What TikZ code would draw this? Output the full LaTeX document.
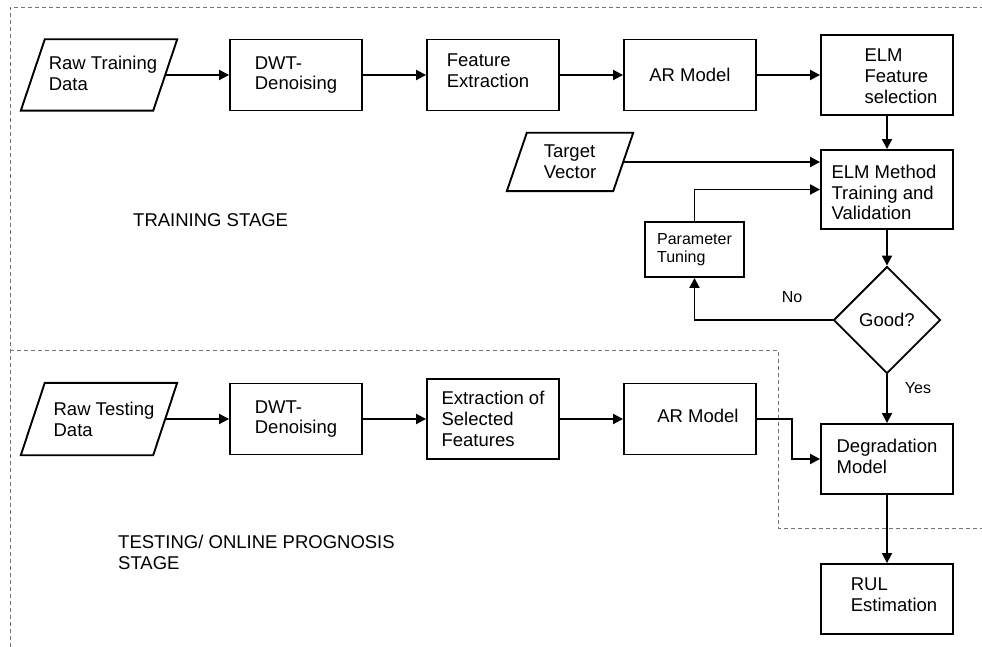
\documentclass[tikz,border=0pt]{standalone}
\usepackage{fontspec}
\setmainfont{Liberation Sans}
\usetikzlibrary{arrows.meta,shapes.geometric}

\begin{document}
\begin{tikzpicture}[x=1pt,y=-1pt,
  font=\fontsize{18.5}{20.8}\selectfont,
  box/.style={draw, line width=1.9pt, rectangle, inner sep=0pt, align=left,
    minimum width=132pt, minimum height=71pt},
  iobox/.style={inner sep=0pt, align=left, minimum width=132pt, minimum height=71pt},
  txt/.style={inner sep=0pt, align=left},
  outline/.style={draw, line width=1.9pt, line join=miter},
  flow/.style={line width=1.9pt, -{Triangle[length=10pt,width=10pt]}},
  stageline/.style={draw=black!55, line width=0.8pt, dash pattern=on 4pt off 3pt},
  tag/.style={inner sep=0pt, font=\fontsize{16}{18}\selectfont},
]
\useasboundingbox (0,0) rectangle (982,647);

% stage borders
\draw[stageline] (10,647) -- (10,7) -- (982,7);
\draw[stageline] (10,350) -- (778,350) -- (778,528) -- (982,528);

% training row
\node[iobox] (rtr) at (99,75) {};
\node[txt] (rtr-t) at ([xshift=4pt,yshift=2pt]rtr.center) {Raw Training\\Data};
\node[box] (dwt1) at (296,75) {DWT-\\Denoising};
\node[box] (fe) at (493,75) {};
\node[txt] (fe-t) at ([xshift=-5pt,yshift=4pt]fe.center) {Feature\\Extraction};
\node[box] (ar1) at (690,75) {AR Model};
\node[box, minimum height=80pt] (elmfs) at (887,75) {};
\node[txt] (elmfs-t) at ([xshift=14pt,yshift=-1pt]elmfs.center) {ELM\\Feature\\selection};

\node[iobox, minimum width=106pt, minimum height=58pt] (tv) at (570,162) {Target\\Vector};
\node[box, minimum height=79pt] (elmm) at (887,189.5) {};
\node[txt] (elmm-t) at ([xshift=-3pt,yshift=-3pt]elmm.center) {ELM Method\\Training and\\Validation};
\node[box, minimum width=99pt, minimum height=55pt, font=\fontsize{16}{18}\selectfont] (pt) at (694.5,249.5) {Parameter\\Tuning};
\node[draw, line width=1.9pt, diamond, aspect=1, inner sep=0pt, minimum size=107pt] (good) at (887,320) {Good?};

% testing row
\node[iobox, minimum height=72pt] (rte) at (99,419) {};
\node[txt] (rte-t) at ([xshift=5pt]rte.center) {Raw Testing\\Data};
\node[box] (dwt2) at (296,419) {DWT-\\Denoising};
\node[box, minimum height=80pt] (esf) at (493,419) {Extraction of\\Selected\\Features};
\node[box] (ar2) at (690,419) {};
\node[txt] (ar2-t) at ([xshift=8pt,yshift=3pt]ar2.center) {AR Model};
\node[box, minimum height=70pt] (deg) at (887,459) {};
\node[txt] (deg-t) at ([yshift=3pt]deg.center) {Degradation\\Model};
\node[box, minimum height=70pt] (rul) at (887,599) {};
\node[txt] (rul-t) at ([xshift=7pt,yshift=4pt]rul.center) {RUL\\Estimation};

% data input outlines
\foreach \n/\s in {rtr/12, rte/12, tv/10}{
  \draw[outline] ([xshift=\s]\n.north west) -- ([xshift=\s]\n.north east)
    -- ([xshift=-\s]\n.south east) -- ([xshift=-\s]\n.south west) -- cycle;
}

% stage labels
\node[inner sep=0pt, anchor=west] (trainlbl) at (133,220) {TRAINING STAGE};
\node[inner sep=0pt, anchor=west, align=left] (testlbl) at (118,552) {TESTING/ ONLINE PROGNOSIS\\STAGE};

% connectors
\draw[flow] (rtr.east) -- (dwt1.west);
\draw[flow] (dwt1.east) -- (fe.west);
\draw[flow] (fe.east) -- (ar1.west);
\draw[flow] (ar1.east) -- (elmfs.west);
\draw[flow] (elmfs.south) -- (elmm.north);
\draw[flow] (tv.east) -- (tv.east -| elmm.west);
\draw[flow] (pt.north) |- (elmm.west);
\draw[flow] (elmm.south) -- (good.north);
\draw[flow] (good.west) -| (pt.south);
\draw[flow] (good.south) -- (deg.north);

\draw[flow] (rte.east) -- (dwt2.west);
\draw[flow] (dwt2.east) -- (esf.west);
\draw[flow] (esf.east) -- (ar2.west);
\draw[flow] (ar2.east) -- ++(35,0) |- (deg.west);
\draw[flow] (deg.south) -- (rul.north);

\node[tag] (nolbl) at (792,297) {No};
\node[tag] (yeslbl) at (918,388) {Yes};
\end{tikzpicture}
\end{document}
